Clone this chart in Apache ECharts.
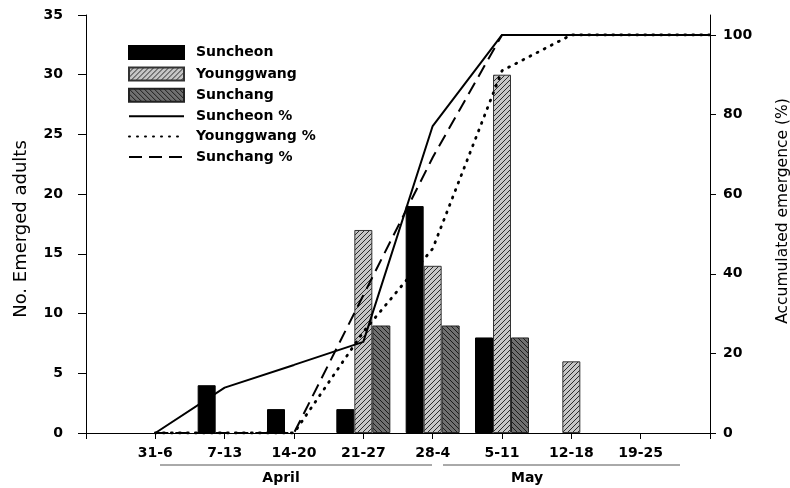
<!DOCTYPE html>
<html>
<head>
<meta charset="utf-8">
<script src="https://cdn.jsdelivr.net/npm/echarts@6/dist/echarts.min.js"></script>
<style>
html,body{margin:0;padding:0;background:#fff;}
#chart{width:790px;height:488px;}
</style>
</head>
<body>
<div id="chart"></div>
<script>
// ---- data ----
var weeks = ['', '31-6', '7-13', '14-20', '21-27', '28-4', '5-11', '12-18', '19-25', ''];
var suncheon   = ['-', 0, 4, 2, 2, 19, 8, 0, 0, '-'];
var younggwang = ['-', 0, 0, 0, 17, 14, 30, 6, 0, '-'];
var sunchang   = ['-', 0, 0, 0, 9, 9, 8, 0, 0, '-'];
var suncheonPct   = ['-', 0, 11.4, 17.1, 22.9, 77.1, 100, 100, 100, 100];
var younggwangPct = ['-', 0, 0, 0, 25.4, 46.3, 91.0, 100, 100, 100];
var sunchangPct   = ['-', 0, 0, 0, 34.6, 69.2, 100, 100, 100, 100];
var leftTicks = [0, 5, 10, 15, 20, 25, 30, 35];
var rightTicks = [0, 20, 40, 60, 80, 100];
var months = ['April', 'May'];

// zero-height bars are not drawn (avoid border slivers on the baseline)
function bars(arr) { return arr.map(function (v) { return v === 0 ? '-' : v; }); }

function hatch(bg, fg, dir) {
  var s = 5;
  var c = document.createElement('canvas');
  c.width = s; c.height = s;
  var g = c.getContext('2d');
  g.fillStyle = bg; g.fillRect(0, 0, s, s);
  g.strokeStyle = fg; g.lineWidth = 1;
  g.beginPath();
  if (dir === '/') {
    g.moveTo(-1, s + 1); g.lineTo(s + 1, -1);
    g.moveTo(-1, 1); g.lineTo(1, -1);
    g.moveTo(s - 1, s + 1); g.lineTo(s + 1, s - 1);
  } else {
    g.moveTo(-1, -1); g.lineTo(s + 1, s + 1);
    g.moveTo(-1, s - 1); g.lineTo(1, s + 1);
    g.moveTo(s - 1, -1); g.lineTo(s + 1, 1);
  }
  g.stroke();
  return c;
}

var tickFont = { fontFamily: 'DejaVu Sans', fontWeight: 'bold', fontSize: 14, color: '#000' };
var chart = echarts.init(document.getElementById('chart'), null, { renderer: 'canvas' });
var hidden = { opacity: 0 };

var option = {
  backgroundColor: '#fff',
  animation: false,
  grid: { left: 86, right: 80, top: 15, bottom: 55, containLabel: false, outerBoundsMode: 'none' },
  legend: {
    orient: 'vertical', left: 128, top: 45, padding: 0,
    itemWidth: 55, itemHeight: 13, itemGap: 6.4,
    textStyle: { fontFamily: 'DejaVu Sans', fontWeight: 'bold', fontSize: 14, color: '#000', lineHeight: 14, padding: [0, 0, 0, 7] },
    data: [
      { name: 'Suncheon', icon: 'rect' },
      { name: 'Younggwang', icon: 'rect' },
      { name: 'Sunchang', icon: 'rect' },
      { name: 'Suncheon %', itemStyle: hidden },
      { name: 'Younggwang %', itemStyle: hidden },
      { name: 'Sunchang %', itemStyle: hidden }
    ]
  },
  xAxis: {
    type: 'category', data: weeks, boundaryGap: false,
    axisLine: { lineStyle: { color: '#000', width: 1 } },
    axisTick: { show: true, interval: 0, inside: false, length: 6, lineStyle: { color: '#000' } },
    axisLabel: Object.assign({ interval: 0, margin: 13 }, tickFont),
    splitLine: { show: false }
  },
  yAxis: [{
    type: 'value', min: 0, max: 35, interval: 5, position: 'left',
    name: 'No. Emerged adults', nameLocation: 'middle', nameGap: 56,
    nameTextStyle: { fontFamily: 'DejaVu Sans', fontSize: 18, color: '#000', padding: [0, 10, 0, 0] },
    axisLine: { show: true, lineStyle: { color: '#000', width: 1 } },
    axisTick: { show: true, length: 8, lineStyle: { color: '#000' } },
    axisLabel: Object.assign({ margin: 23, customValues: leftTicks }, tickFont),
    splitLine: { show: false }
  }, {
    type: 'value', min: 0, max: 105, interval: 20, position: 'right',
    name: 'Accumulated emergence (%)', nameLocation: 'middle', nameGap: 65,
    nameTextStyle: { fontFamily: 'DejaVu Sans', fontSize: 15.5, color: '#000', padding: [0, 0, 0, 26] },
    axisLine: { show: true, lineStyle: { color: '#000', width: 1 } },
    axisTick: { show: true, length: 6, customValues: rightTicks, lineStyle: { color: '#000' } },
    axisLabel: Object.assign({ margin: 13, customValues: rightTicks }, tickFont),
    splitLine: { show: false }
  }],
  series: [{
    name: 'Suncheon', type: 'bar', data: bars(suncheon), barWidth: 18, barGap: '0%',
    itemStyle: { color: '#000', borderColor: '#000', borderWidth: 1 }, z: 2
  }, {
    name: 'Younggwang', type: 'bar', data: bars(younggwang), barWidth: 18, barGap: '0%',
    itemStyle: { color: { image: hatch('#c6c6c6', '#2a2a2a', '/'), repeat: 'repeat' }, borderColor: '#333', borderWidth: 1 }, z: 2
  }, {
    name: 'Sunchang', type: 'bar', data: bars(sunchang), barWidth: 18, barGap: '0%',
    itemStyle: { color: { image: hatch('#707070', '#1a1a1a', '\\'), repeat: 'repeat' }, borderColor: '#222', borderWidth: 1 }, z: 2
  }, {
    name: 'Suncheon %', type: 'line', yAxisIndex: 1, data: suncheonPct, symbol: 'none',
    lineStyle: { color: '#000', width: 2, type: 'solid' }, itemStyle: { color: '#000' }, z: 5
  }, {
    name: 'Younggwang %', type: 'line', yAxisIndex: 1, data: younggwangPct, symbol: 'none',
    lineStyle: { color: '#000', width: 2.8, type: [1, 7], cap: 'round' }, itemStyle: { color: '#000' }, z: 5
  }, {
    name: 'Sunchang %', type: 'line', yAxisIndex: 1, data: sunchangPct, symbol: 'none',
    lineStyle: { color: '#000', width: 2, type: [13, 7] }, itemStyle: { color: '#000' }, z: 5
  }],
  graphic: [
    { type: 'line', shape: { x1: 160, y1: 465, x2: 432, y2: 465 }, style: { stroke: '#555', lineWidth: 1 } },
    { type: 'line', shape: { x1: 443, y1: 465, x2: 680, y2: 465 }, style: { stroke: '#555', lineWidth: 1 } },
    { type: 'text', x: 281, y: 478, style: { text: months[0], font: 'bold 14px "DejaVu Sans"', fill: '#000', textAlign: 'center', textVerticalAlign: 'middle' } },
    { type: 'text', x: 527, y: 478, style: { text: months[1], font: 'bold 14px "DejaVu Sans"', fill: '#000', textAlign: 'center', textVerticalAlign: 'middle' } }
  ]
};
chart.setOption(option);
</script>
</body>
</html>
